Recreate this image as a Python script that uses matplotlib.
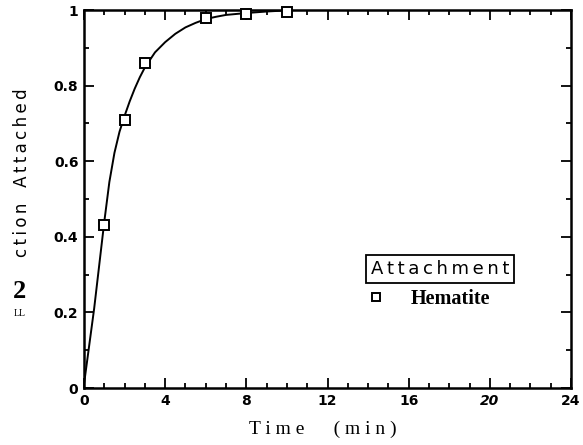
import matplotlib
matplotlib.use('Agg')
import matplotlib.pyplot as plt
from matplotlib.ticker import MultipleLocator

# measured points (hematite)
t_data = [1, 2, 3, 6, 8, 10]
frac_data = [0.43, 0.71, 0.86, 0.98, 0.99, 0.995]

# fitted curve
t_fit = [0.0, 0.25, 0.5, 0.75, 1.0, 1.25, 1.5, 1.75, 2.0, 2.25, 2.5, 2.75, 3.0,
         3.5, 4.0, 4.5, 5.0, 5.5, 6.0, 6.5, 7.0, 8.0, 9.0, 10.0, 10.5, 12.0]
frac_fit = [0.01, 0.11, 0.21, 0.325, 0.44, 0.545, 0.622, 0.678, 0.72, 0.758,
            0.792, 0.822, 0.848, 0.888, 0.915, 0.937, 0.954, 0.966, 0.976,
            0.982, 0.987, 0.992, 0.996, 0.999, 1.0, 1.0]

xticks = [0, 4, 8, 12, 16, 20, 24]
yticks = [0, 0.2, 0.4, 0.6, 0.8, 1]
ytick_labels = ['0', '0.2', '0.4', '0.6', '0.8', '1']

TS = '\u2009'  # thin space, the scan has wide letter spacing

fig = plt.figure(figsize=(5.83, 4.45), dpi=100)
ax = fig.add_axes([84 / 583, 1 - 388 / 445, 487 / 583, 378 / 445])

ax.plot(t_fit, frac_fit, color='black', lw=1.4)
ax.plot(t_data, frac_data, ls='none', marker='s', ms=7.5, mfc='white',
        mec='black', mew=1.4, label='Hematite', clip_on=False, zorder=3)

ax.set_xlim(0, 24)
ax.set_ylim(0, 1)
ax.set_xticks(xticks)
ax.set_yticks(yticks)
ax.set_yticklabels(ytick_labels)
ax.xaxis.set_minor_locator(MultipleLocator(1))
ax.yaxis.set_minor_locator(MultipleLocator(0.1))
ax.tick_params(which='both', direction='in', top=True, right=True, width=1.3)
ax.tick_params(which='major', length=7.5, labelsize=10, pad=4)
ax.tick_params(which='minor', length=3.5)
for lab in ax.get_xticklabels() + ax.get_yticklabels():
    lab.set_fontweight('bold')
ax.get_xticklabels()[5].set_fontstyle('italic')
for s in ax.spines.values():
    s.set_linewidth(1.8)

# x label (serif, spaced)
fig.text(323 / 583, 1 - 429 / 445, 'T i m e      ( m i n )', ha='center',
         va='center', family='Liberation Serif', fontsize=14)

# y label, as it appears in the scan
ylab = TS.join('ction') + '   ' + TS.join('Attached')
fig.text(22 / 583, 1 - 173 / 445, ylab, rotation=90, ha='center',
         va='center', fontsize=12, family='DejaVu Sans')
fig.text(20 / 583, 1 - 292 / 445, '2', ha='center', va='center',
         family='Liberation Serif', fontweight='bold', fontsize=19)
fig.text(20 / 583, 1 - 313 / 445, 'LL', ha='center', va='center',
         family='Liberation Serif', fontsize=7)

ax.text((440 - 84) / 487, (388 - 269) / 378, TS.join('Attachment'), transform=ax.transAxes,
        ha='center', va='center', fontsize=13,
        bbox=dict(boxstyle='square,pad=0.25', fc='white', ec='black', lw=1.3))
ax.legend(loc='upper left', bbox_to_anchor=((366 - 84) / 487, (388 - 289) / 378),
          frameon=False, borderpad=0, borderaxespad=0, handlelength=1,
          handletextpad=1.2, prop={'family': 'Liberation Serif', 'weight': 'bold', 'size': 14.5},
          markerscale=0.8)

fig.savefig('out.png', dpi=100)
